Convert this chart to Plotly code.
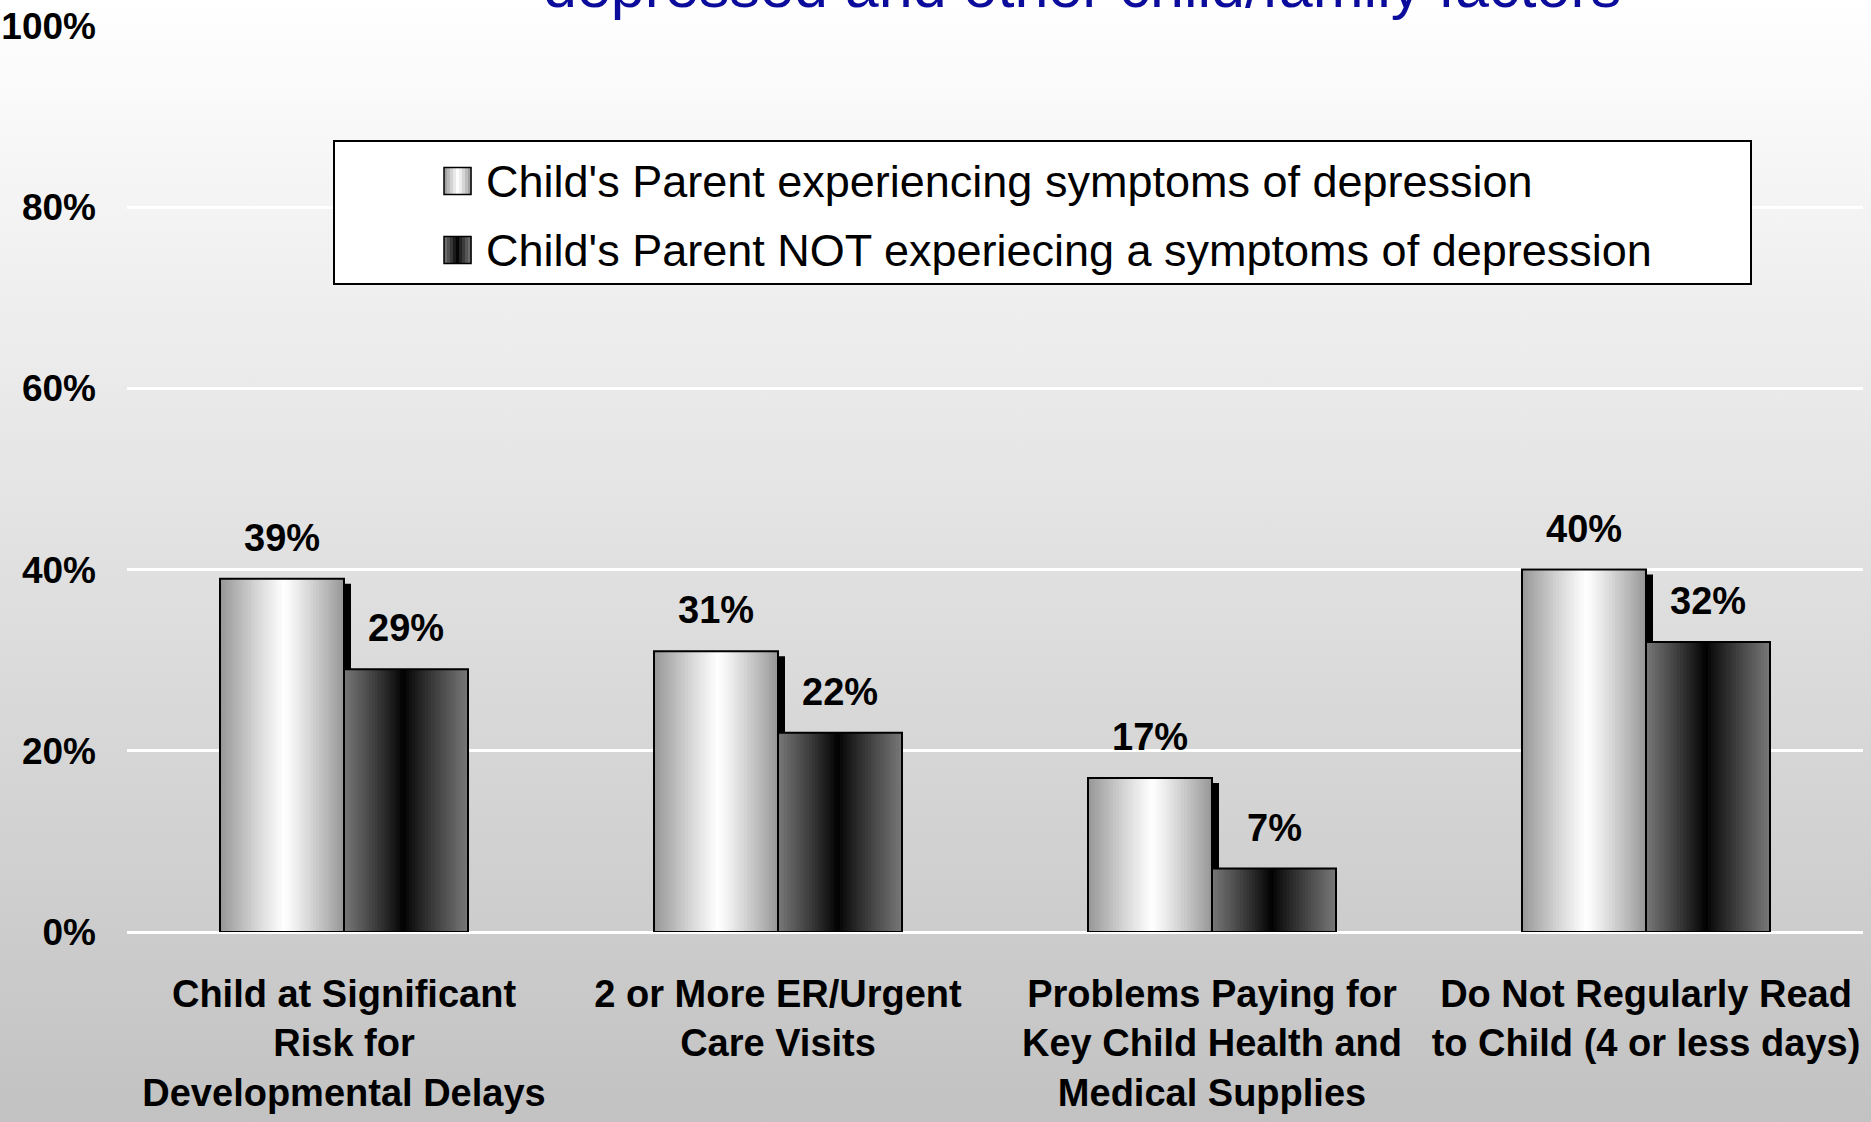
import plotly.graph_objects as go

# ---------------- data ----------------
categories = [
    "Child at Significant<br>Risk for<br>Developmental Delays",
    "2 or More ER/Urgent<br>Care Visits",
    "Problems Paying for<br>Key Child Health and<br>Medical Supplies",
    "Do Not Regularly Read<br>to Child (4 or less days)",
]
depressed = [39, 31, 17, 40]
not_depressed = [29, 22, 7, 32]
series_names = [
    "Child's Parent experiencing symptoms of depression",
    "Child's Parent NOT experiecing a symptoms of depression",
]
y_ticks = [0, 20, 40, 60, 80, 100]
y_ticktext = ["0%", "20%", "40%", "60%", "80%", "100%"]
title_text = "depressed and other child/family factors"

# ---------------- geometry / style ----------------
W, H = 1871, 1122
M_L, M_R, M_T, M_B = 127, 8, 26, 190
plot_w = W - M_L - M_R
plot_h = H - M_T - M_B
px_x = 1.0 / (plot_w / 4.0)      # x units per pixel
px_y = 100.0 / plot_h            # y units per pixel
BW = 124 * px_x                  # bar width in x units
N = 40                           # gradient strips per bar
FONT = "Liberation Sans, Arial, sans-serif"

xs = list(range(len(categories)))


def light_col(t):
    c0 = 150
    peak = 0.52
    d = abs(t - peak) / (peak if t < peak else 1 - peak)
    v = int(round(255 - (255 - c0) * min(1, d) ** 1.1))
    return f"rgb({v},{v},{v})"


def dark_col(t):
    c0 = 120
    peak = 0.48
    d = abs(t - peak) / (peak if t < peak else 1 - peak)
    v = int(round(c0 * min(1, d) ** 0.9))
    return f"rgb({v},{v},{v})"


fig = go.Figure()

# shadow of light bars
sh_dx = 7 * px_x
sh_dy = 5 * px_y
sh_base = -3 * px_y
fig.add_trace(go.Bar(
    x=xs, y=[v - sh_dy - sh_base for v in depressed], base=sh_base,
    width=BW, offset=-BW + sh_dx, marker=dict(color="black", line=dict(width=0)),
    showlegend=False, hoverinfo="skip"))

sw = BW / N
for series, colf, off0 in [(depressed, light_col, -BW), (not_depressed, dark_col, 0.0)]:
    for i in range(N):
        t = (i + 0.5) / N
        wdt = sw * (1.6 if i < N - 1 else 1.0)
        fig.add_trace(go.Bar(
            x=xs, y=series, width=wdt, offset=off0 + i * sw,
            marker=dict(color=colf(t), line=dict(width=0)),
            showlegend=False, hoverinfo="skip"))

# outlines with value labels
for series, off0, name in [(depressed, -BW, series_names[0]), (not_depressed, 0.0, series_names[1])]:
    fig.add_trace(go.Bar(
        x=xs, y=series, width=BW, offset=off0, name=name,
        marker=dict(color="rgba(0,0,0,0)", line=dict(color="black", width=2)),
        showlegend=False))
    for xi, v in zip(xs, series):
        fig.add_annotation(
            x=xi + off0 + BW / 2, y=v, xref="x", yref="y",
            text=f"{v}%", showarrow=False, yanchor="bottom", yshift=18,
            font=dict(family=FONT, size=38, color="black", weight="bold"))

# ---------------- legend (manual box) ----------------
def to_px_x(p):
    return (p - M_L) / plot_w


def to_px_y(p):
    return (H - M_B - p) / plot_h


fig.add_shape(type="rect", xref="paper", yref="paper",
              x0=to_px_x(334), x1=to_px_x(1751), y0=to_px_y(284), y1=to_px_y(141),
              fillcolor="white", line=dict(color="black", width=2), layer="above")

rows = [(181, light_col), (250, dark_col)]
for (cy, colf), name in zip(rows, series_names):
    x0, s = 444, 27
    nstr = 9
    for i in range(nstr):
        t = (i + 0.5) / nstr
        fig.add_shape(type="rect", xref="paper", yref="paper",
                      x0=to_px_x(x0 + i * s / nstr), x1=to_px_x(x0 + (i + 1) * s / nstr + 0.5),
                      y0=to_px_y(cy + s / 2), y1=to_px_y(cy - s / 2),
                      fillcolor=colf(t), line=dict(width=0), layer="above")
    fig.add_shape(type="rect", xref="paper", yref="paper",
                  x0=to_px_x(x0), x1=to_px_x(x0 + s),
                  y0=to_px_y(cy + s / 2), y1=to_px_y(cy - s / 2),
                  fillcolor="rgba(0,0,0,0)", line=dict(color="black", width=1.5), layer="above")
    fig.add_annotation(xref="paper", yref="paper", x=to_px_x(484), y=to_px_y(cy),
                       xanchor="left", yanchor="middle", showarrow=False, text=name,
                       font=dict(family=FONT, size=45, color="black"))

# title (mostly cut off at top, as in the source)
fig.add_annotation(xref="paper", yref="paper", x=to_px_x(1082), y=to_px_y(22),
                   xanchor="center", yanchor="bottom", showarrow=False, text=title_text,
                   font=dict(family=FONT, size=61, color="#0c0c9c"))

# background gradient via svg image
svg = ("<svg xmlns='http://www.w3.org/2000/svg' width='10' height='100' preserveAspectRatio='none'>"
       "<defs><linearGradient id='g' x1='0' y1='0' x2='0' y2='1'>"
       "<stop offset='0' stop-color='%23ffffff'/><stop offset='1' stop-color='%23c2c2c2'/>"
       "</linearGradient></defs><rect width='10' height='100' fill='url(%23g)'/></svg>")
fig.add_layout_image(dict(
    source="data:image/svg+xml;charset=utf-8," + svg,
    xref="paper", yref="paper", x=to_px_x(0), y=to_px_y(0),
    sizex=W / plot_w, sizey=H / plot_h, sizing="stretch",
    xanchor="left", yanchor="top", layer="below"))

fig.update_layout(
    width=W, height=H,
    margin=dict(l=M_L, r=M_R, t=M_T, b=M_B, autoexpand=False),
    barmode="overlay",
    paper_bgcolor="rgba(0,0,0,0)", plot_bgcolor="rgba(0,0,0,0)",
    showlegend=False,
    font=dict(family=FONT, color="black"),
)
fig.update_xaxes(
    range=[-0.5, 3.5], tickvals=xs, ticktext=categories,
    showgrid=False, zeroline=False, showline=False, ticks="",
    tickfont=dict(family=FONT, size=38, color="black", weight="bold"),
    ticklabelstandoff=36, automargin=False, fixedrange=True)
fig.update_yaxes(
    range=[0, 100], tickvals=y_ticks, ticktext=y_ticktext,
    showgrid=True, gridcolor="white", gridwidth=3,
    zeroline=True, zerolinecolor="white", zerolinewidth=3,
    showline=False, ticks="",
    tickfont=dict(family=FONT, size=37, color="black", weight="bold"),
    ticklabelstandoff=30, automargin=False, fixedrange=True)

fig.write_html("out.html", config={"displayModeBar": False},
               post_script="document.body.style.margin='0';document.body.style.overflow='hidden';")
